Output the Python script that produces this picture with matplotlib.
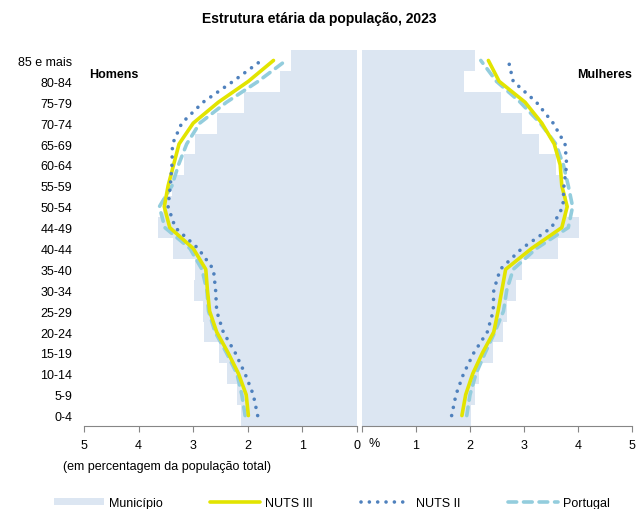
"""Pirâmide etária: Município vs NUTS III, NUTS II e Portugal (2023)."""

import matplotlib.pyplot as plt
from matplotlib.lines import Line2D
from matplotlib.patches import Patch
import matplotlib.transforms as mtransforms

plt.rcParams['font.family'] = ['Liberation Sans', 'DejaVu Sans']

# Grupos etários (de baixo para cima)
age_groups = ['0-4', '5-9', '10-14', '15-19', '20-24', '25-29', '30-34',
              '35-40', '40-44', '44-49', '50-54', '55-59', '60-64',
              '65-69', '70-74', '75-79', '80-84', '85 e mais']

# Homens (% da população total)
men_municipio = [2.12, 2.19, 2.39, 2.53, 2.81, 2.83, 2.98, 2.97, 3.37, 3.65,
                 3.55, 3.39, 3.16, 2.97, 2.56, 2.07, 1.41, 1.21]
men_nuts3 = [1.99, 2.03, 2.17, 2.36, 2.57, 2.70, 2.74, 2.77, 3.00, 3.43,
             3.53, 3.46, 3.36, 3.26, 3.00, 2.54, 1.99, 1.53]
men_nuts2 = [1.82, 1.90, 2.05, 2.23, 2.45, 2.57, 2.59, 2.63, 2.91, 3.33,
             3.46, 3.42, 3.39, 3.38, 3.21, 2.82, 2.27, 1.75]
men_portugal = [2.05, 2.11, 2.20, 2.39, 2.60, 2.72, 2.75, 2.84, 3.06, 3.52,
                3.62, 3.39, 3.27, 3.12, 2.88, 2.39, 1.81, 1.30]

# Mulheres (% da população total)
women_municipio = [2.01, 2.09, 2.17, 2.42, 2.61, 2.68, 2.85, 2.96, 3.63, 4.01,
                   3.79, 3.70, 3.59, 3.27, 2.96, 2.57, 1.89, 2.09]
women_nuts3 = [1.85, 1.92, 2.05, 2.23, 2.44, 2.52, 2.59, 2.66, 3.14, 3.70,
               3.80, 3.70, 3.67, 3.56, 3.33, 3.02, 2.54, 2.34]
women_nuts2 = [1.66, 1.74, 1.88, 2.07, 2.32, 2.43, 2.44, 2.56, 2.96, 3.51,
               3.72, 3.74, 3.79, 3.76, 3.54, 3.23, 2.80, 2.71]
women_portugal = [1.94, 2.00, 2.11, 2.28, 2.46, 2.62, 2.68, 2.80, 3.23, 3.82,
                  3.90, 3.82, 3.73, 3.59, 3.30, 2.93, 2.49, 2.20]

x_ticks = [0, 1, 2, 3, 4, 5]

BAR_COLOR = '#DCE6F2'
NUTS3_COLOR = '#E2E400'
NUTS2_COLOR = '#4F81BD'
PT_COLOR = '#93CDDD'
AXIS_COLOR = '#868686'

fig = plt.figure(figsize=(6.38, 5.10), dpi=100)
ax_l = fig.add_axes([0.1317, 0.1627, 0.4279, 0.7373])
ax_r = fig.add_axes([0.5674, 0.1627, 0.4232, 0.7373])

y = list(range(len(age_groups)))


def draw_side(ax, bars, nuts3, nuts2, portugal):
    ax.barh(y, bars, height=1.0, color=BAR_COLOR, zorder=1)
    ax.plot(nuts3, y, color=NUTS3_COLOR, lw=2.6, solid_capstyle='round',
            solid_joinstyle='round', zorder=3)
    ax.plot(nuts2, y, color=NUTS2_COLOR, lw=2.6, linestyle=(0, (0.01, 2.3)),
            dash_capstyle='round', zorder=4)
    ax.plot(portugal, y, color=PT_COLOR, lw=2.6, linestyle=(0, (2.4, 1.9)),
            dash_capstyle='round', zorder=2)
    ax.set_ylim(-0.5, len(age_groups) - 0.5)
    ax.set_xticks(x_ticks)
    for side in ('left', 'right', 'top'):
        ax.spines[side].set_visible(False)
    ax.spines['bottom'].set_color(AXIS_COLOR)
    ax.tick_params(axis='x', direction='out', length=4, color=AXIS_COLOR,
                   labelsize=9, pad=5)
    ax.tick_params(axis='y', length=0, labelsize=9)


draw_side(ax_l, men_municipio, men_nuts3, men_nuts2, men_portugal)
ax_l.set_xlim(5, 0)
ax_l.set_yticks(y)
ax_l.set_yticklabels(age_groups)
ax_l.tick_params(axis='y', pad=8.5)
ax_l.set_xticklabels([str(t) for t in x_ticks])

draw_side(ax_r, women_municipio, women_nuts3, women_nuts2, women_portugal)
ax_r.set_xlim(0, 5)
ax_r.set_yticks([])
ax_r.set_xticklabels([''] + [str(t) for t in x_ticks[1:]])

# "%" junto ao zero do lado direito
trans = mtransforms.blended_transform_factory(ax_r.transData, ax_r.transAxes)
ax_r.text(0.22, -0.028, '%', transform=trans, ha='center', va='top', fontsize=9)

ax_l.text(0.02, 0.935, 'Homens', transform=ax_l.transAxes, fontsize=9,
          fontweight='bold', ha='left', va='center')
ax_r.text(1.0, 0.935, 'Mulheres', transform=ax_r.transAxes, fontsize=9,
          fontweight='bold', ha='right', va='center')

fig.text(0.5, 0.962, 'Estrutura etária da população, 2023', ha='center',
         va='center', fontsize=10, fontweight='bold')
fig.text(0.099, 0.084, '(em percentagem da população total)', ha='left',
         va='center', fontsize=9)

handles = [
    Patch(facecolor=BAR_COLOR, edgecolor='none'),
    Line2D([], [], color=NUTS3_COLOR, lw=2.6, solid_capstyle='round'),
    Line2D([], [], color=NUTS2_COLOR, lw=2.6, linestyle=(0, (0.01, 2.3)),
           dash_capstyle='round'),
    Line2D([], [], color=PT_COLOR, lw=2.6, linestyle=(0, (2.4, 1.9)),
           dash_capstyle='round'),
]
labels = ['Município', 'NUTS III', 'NUTS II', 'Portugal']
fig.legend(handles, labels, loc='center', bbox_to_anchor=(0.520, 0.012),
           ncol=4, frameon=False, fontsize=9, handlelength=4.0,
           handleheight=0.6, handletextpad=0.4, columnspacing=3.8)

fig.savefig('out.png', dpi=100)
